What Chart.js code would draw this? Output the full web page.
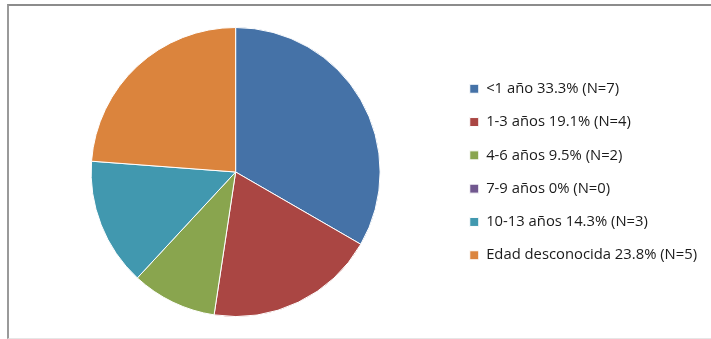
<!DOCTYPE html>
<html>
<head>
<meta charset="utf-8">
<script src="https://cdn.jsdelivr.net/npm/chart.js@4/dist/chart.umd.min.js"></script>
<style>
  html, body { margin: 0; padding: 0; background: #fff; }
  #marco {
    position: absolute; left: 7px; top: 4px; width: 710px; height: 332px;
    border-top: 2px solid #8c8c8c; border-left: 2px solid #9a9a9a;
    border-bottom: 1px solid #e6e6e6;
  }
  #wrap { position: absolute; left: 0; top: 0; width: 702px; height: 332px; }
</style>
</head>
<body>
<div id="marco"><div id="wrap"><canvas id="ChartPie"></canvas></div></div>
<script>
var categorias = ["<1 año", "1-3 años", "4-6 años", "7-9 años", "10-13 años", "Edad desconocida"];
var casos = [7, 4, 2, 0, 3, 5];
var porcentajes = ["33.3%", "19.1%", "9.5%", "0%", "14.3%", "23.8%"];
var colores = ["#4572A7", "#AA4643", "#89A54E", "#71588F", "#4198AF", "#DB843D"];

var etiquetas = [];
for (let i = 0; i < categorias.length; i++) {
  etiquetas.push(categorias[i] + " " + porcentajes[i] + " (N=" + casos[i] + ")");
}

var datap = {
  labels: etiquetas,
  datasets: [
    {
      data: casos,
      backgroundColor: colores,
      borderColor: "#ffffff",
      borderWidth: 1,
    },
  ],
};

const configp = {
  type: "pie",
  data: datap,
  options: {
    responsive: true,
    maintainAspectRatio: false,
    animation: false,
    layout: { padding: { top: 21, bottom: 21, left: 11, right: 4 } },
    plugins: {
      tooltip: { enabled: false },
      legend: {
        position: "right",
        labels: {
          boxWidth: 9,
          boxHeight: 9,
          padding: 18.5,
          color: "#1a1a1a",
          font: { family: "Open Sans", size: 14.8 },
        },
      },
    },
  },
};

var ChartPie = new Chart(document.getElementById("ChartPie"), configp);
</script>
</body>
</html>
